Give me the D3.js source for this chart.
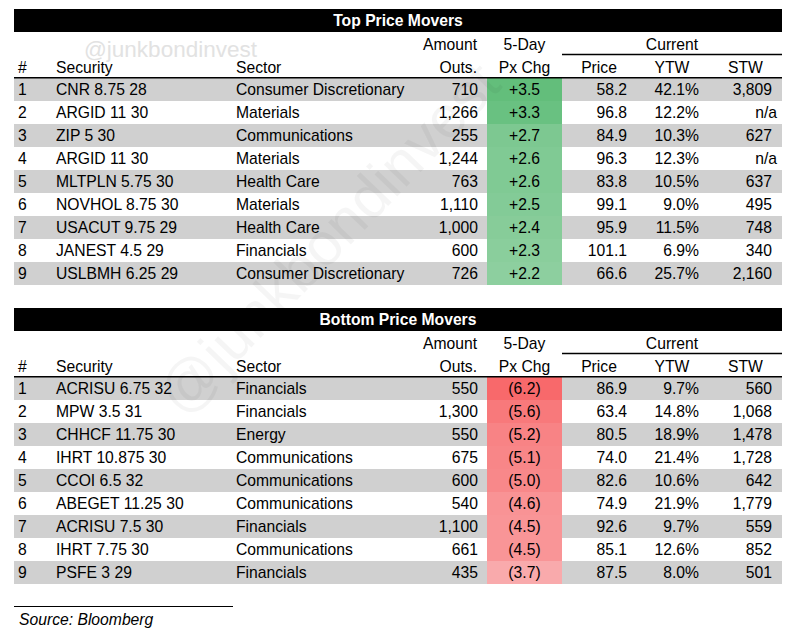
<!DOCTYPE html>
<html>
<head>
<meta charset="utf-8">
<script src="https://cdn.jsdelivr.net/npm/d3@7"></script>
<style>
  body { margin: 0; background: #fff; }
  svg text { font-family: "Liberation Sans", Arial, sans-serif; font-size: 15.7px; fill: #000; }
</style>
</head>
<body>
<div class="chart"></div>
<script>
// top movers
var topSecurity = ['CNR 8.75 28', 'ARGID 11 30', 'ZIP 5 30', 'ARGID 11 30', 'MLTPLN 5.75 30',
  'NOVHOL 8.75 30', 'USACUT 9.75 29', 'JANEST 4.5 29', 'USLBMH 6.25 29'];
var topSector = ['Consumer Discretionary', 'Materials', 'Communications', 'Materials', 'Health Care',
  'Materials', 'Health Care', 'Financials', 'Consumer Discretionary'];
var topAmount = [710, 1266, 255, 1244, 763, 1110, 1000, 600, 726];
var topChg = [3.5, 3.3, 2.7, 2.6, 2.6, 2.5, 2.4, 2.3, 2.2];
var topPrice = [58.2, 96.8, 84.9, 96.3, 83.8, 99.1, 95.9, 101.1, 66.6];
var topYtw = [42.1, 12.2, 10.3, 12.3, 10.5, 9.0, 11.5, 6.9, 25.7];
var topStw = [3809, null, 627, null, 637, 495, 748, 340, 2160];

// bottom movers
var botSecurity = ['ACRISU 6.75 32', 'MPW 3.5 31', 'CHHCF 11.75 30', 'IHRT 10.875 30', 'CCOI 6.5 32',
  'ABEGET 11.25 30', 'ACRISU 7.5 30', 'IHRT 7.75 30', 'PSFE 3 29'];
var botSector = ['Financials', 'Financials', 'Energy', 'Communications', 'Communications',
  'Communications', 'Financials', 'Communications', 'Financials'];
var botAmount = [550, 1300, 550, 675, 600, 540, 1100, 661, 435];
var botChg = [-6.2, -5.6, -5.2, -5.1, -5.0, -4.6, -4.5, -4.5, -3.7];
var botPrice = [86.9, 63.4, 80.5, 74.0, 82.6, 74.9, 92.6, 85.1, 87.5];
var botYtw = [9.7, 14.8, 18.9, 21.4, 10.6, 21.9, 9.7, 12.6, 8.0];
var botStw = [560, 1068, 1478, 1728, 642, 1779, 559, 852, 501];

const width = 801, height = 638;
const left = 14, right = 782;
const rowH = 23;

var svg = d3.select('.chart')
  .append('svg')
    .attr('width', width)
    .attr('height', height);

// column edges
var col = { chgL: 487, chgR: 562, price: 599, ytw: 672, stw: 745.5 };
var fmtInt = d3.format(',');
var fmt1 = d3.format('.1f');

var greenScale = d3.scaleLinear().domain([3.5, 2.2]).range(['#63be7b', '#8dcf9f']);
var redScale = d3.scaleLinear().domain([-6.2, -3.7]).range(['#f8696b', '#f9aaac']);

function drawTable(y0, title, d, colorScale) {
  var g = svg.append('g').attr('transform', `translate(0, ${y0})`);

  var n = d.security.length;
  var yScale = d3.scaleBand()
    .domain(d3.range(n))
    .range([69, 69 + n * rowH]);

  // title bar
  g.append('rect')
    .attr('x', left).attr('y', 0)
    .attr('width', right - left).attr('height', 23)
    .attr('fill', '#000');
  g.append('text')
    .attr('x', (left + right) / 2).attr('y', 12).attr('dy', '0.35em')
    .attr('text-anchor', 'middle')
    .style('font-weight', 'bold').style('fill', '#fff')
    .text(title);

  // zebra rows
  g.selectAll('rect.row')
    .data(d3.range(n).filter(i => i % 2 === 0))
    .enter().append('rect')
      .attr('class', 'row')
      .attr('x', left).attr('width', right - left)
      .attr('y', i => yScale(i)).attr('height', yScale.bandwidth())
      .attr('fill', '#d0d0d0');

  // px chg colour cells
  g.selectAll('rect.chg')
    .data(d.chg)
    .enter().append('rect')
      .attr('class', 'chg')
      .attr('x', col.chgL).attr('width', col.chgR - col.chgL)
      .attr('y', (v, i) => yScale(i)).attr('height', yScale.bandwidth())
      .attr('fill', v => colorScale(v));

  // headers
  function head(x, y, txt, anchor) {
    g.append('text').attr('x', x).attr('y', y).attr('dy', '0.35em')
      .attr('text-anchor', anchor || 'start').text(txt);
  }
  head(477, 36, 'Amount', 'end');
  head((col.chgL + col.chgR) / 2, 36, '5-Day', 'middle');
  head((col.chgR + right) / 2, 36, 'Current', 'middle');
  head(18, 59, '#');
  head(56, 59, 'Security');
  head(236, 59, 'Sector');
  head(477, 59, 'Outs.', 'end');
  head((col.chgL + col.chgR) / 2, 59, 'Px Chg', 'middle');
  head(col.price, 59, 'Price', 'middle');
  head(col.ytw, 59, 'YTW', 'middle');
  head(col.stw, 59, 'STW', 'middle');

  g.append('line')
    .attr('x1', col.chgR).attr('x2', right)
    .attr('y1', 45.5).attr('y2', 45.5)
    .attr('stroke', '#000').attr('stroke-width', 1.5);
  g.append('line')
    .attr('x1', left).attr('x2', right)
    .attr('y1', 68.8).attr('y2', 68.8)
    .attr('stroke', '#000').attr('stroke-width', 1.5);

  // cells
  var cols = [
    { x: 18, anchor: 'start', val: i => String(i + 1) },
    { x: 56, anchor: 'start', val: i => d.security[i] },
    { x: 236, anchor: 'start', val: i => d.sector[i] },
    { x: 478, anchor: 'end', val: i => fmtInt(d.amount[i]) },
    { x: (col.chgL + col.chgR) / 2, anchor: 'middle',
      val: i => d.chg[i] >= 0 ? '+' + fmt1(d.chg[i]) : '(' + fmt1(-d.chg[i]) + ')' },
    { x: 627, anchor: 'end', val: i => fmt1(d.price[i]) },
    { x: 699, anchor: 'end', val: i => fmt1(d.ytw[i]) + '%' },
    { x: i => d.stw[i] == null ? 777 : 772, anchor: 'end',
      val: i => d.stw[i] == null ? 'n/a' : fmtInt(d.stw[i]) }
  ];

  cols.forEach(c => {
    g.selectAll(null)
      .data(d3.range(n))
      .enter().append('text')
        .attr('x', typeof c.x === 'function' ? c.x : () => c.x)
        .attr('y', i => yScale(i) + yScale.bandwidth() / 2)
        .attr('dy', '0.35em')
        .attr('text-anchor', c.anchor)
        .text(c.val);
  });
}

drawTable(9, 'Top Price Movers', {
  security: topSecurity, sector: topSector, amount: topAmount, chg: topChg,
  price: topPrice, ytw: topYtw, stw: topStw
}, greenScale);

drawTable(308, 'Bottom Price Movers', {
  security: botSecurity, sector: botSector, amount: botAmount, chg: botChg,
  price: botPrice, ytw: botYtw, stw: botStw
}, redScale);

// watermarks
svg.append('text')
  .attr('x', 84).attr('y', 49).attr('dy', '0.35em')
  .style('font-size', '22.5px').style('fill', '#e2e2e2')
  .text('@junkbondinvest');

svg.append('text')
  .attr('x', 0).attr('y', 0).attr('dy', '0.35em')
  .attr('text-anchor', 'middle')
  .attr('transform', 'translate(328, 238) rotate(-46)')
  .style('font-size', '60px').style('fill', '#000').style('fill-opacity', 0.04)
  .text('@junkbondinvest');

// source
svg.append('line')
  .attr('x1', left).attr('x2', 233)
  .attr('y1', 606.5).attr('y2', 606.5)
  .attr('stroke', '#000').attr('stroke-width', 1);
svg.append('text')
  .attr('x', 19).attr('y', 620).attr('dy', '0.35em')
  .style('font-style', 'italic')
  .text('Source: Bloomberg');
</script>
</body>
</html>
